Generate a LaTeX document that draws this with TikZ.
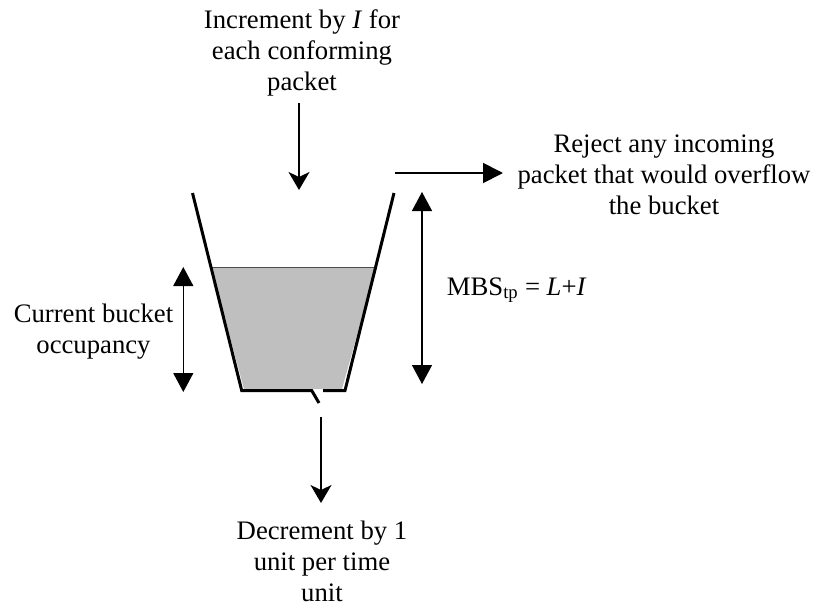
\documentclass[tikz,border=0pt]{standalone}
\usepackage{fontspec}
\setmainfont{Liberation Serif}
\usetikzlibrary{arrows.meta}
\tikzset{
  lbl/.style={font=\fontsize{26.7}{31}\selectfont, inner sep=0pt, align=center, anchor=base},
  wall/.style={line width=3pt, line join=miter, line cap=butt},
  flow/.style={line width=1.4pt, -{Stealth[length=18pt,width=21pt,inset=5pt]}},
  push/.style={line width=1.8pt, -{Triangle[length=20pt,width=20pt]}},
  span/.style={line width=1.4pt, {Triangle[length=19pt,width=20pt]}-{Triangle[length=19pt,width=20pt]}},
}
\begin{document}
\begin{tikzpicture}[x=1pt,y=-1pt]
\useasboundingbox (0,0) rectangle (815,605);

% liquid in the bucket
\fill[gray!50] (211,267) -- (376,267) -- (342,389) -- (244,389) -- cycle;
\draw[line width=0.8pt, gray!60!black] (211,267) -- (376,267);

% bucket walls, with the leak at the bottom
\coordinate (tl) at (192.5,193);
\coordinate (bl) at (241.7,390.5);
\coordinate (gap1) at (311.7,390.5);
\coordinate (leak) at (319,403);
\coordinate (gap2) at (323,390.5);
\coordinate (br) at (345,390.5);
\coordinate (tr) at (394,193);
\draw[wall] (tl) -- (bl) -- (gap1) -- (leak);
\draw[wall] (gap2) -- (br) -- (tr);

% labels (base anchor sits on the last line)
\node[lbl] (inc) at (302,90.5) {Increment by \textit{I} for\\each conforming\\packet};
\node[lbl] (rej) at (664,214) {Reject any incoming\\packet that would overflow\\the bucket};
\node[lbl] (occ) at (93.5,353) {Current bucket\\occupancy};
\node[lbl, anchor=base west] (mbs) at (446.7,295) {MBS\textsubscript{tp} = \textit{L}+\textit{I}};
\node[lbl] (dec) at (322,601.5) {Decrement by 1\\unit per time\\unit};

% arrow end points
\coordinate (inA) at (299,103);
\coordinate (inB) at (299,190);
\coordinate (rjA) at (395,173);
\coordinate (rjB) at (503,173);
\coordinate (mbA) at (422,192);
\coordinate (mbB) at (422,384);
\coordinate (ocA) at (183.3,267);
\coordinate (ocB) at (183.3,392);
\coordinate (dcA) at (321,417);
\coordinate (dcB) at (321,503);

\draw[flow] (inA) -- (inB);
\draw[push] (rjA) -- (rjB);
\draw[span] (mbA) -- (mbB);
\draw[span] (ocA) -- (ocB);
\draw[flow] (dcA) -- (dcB);
\end{tikzpicture}
\end{document}
